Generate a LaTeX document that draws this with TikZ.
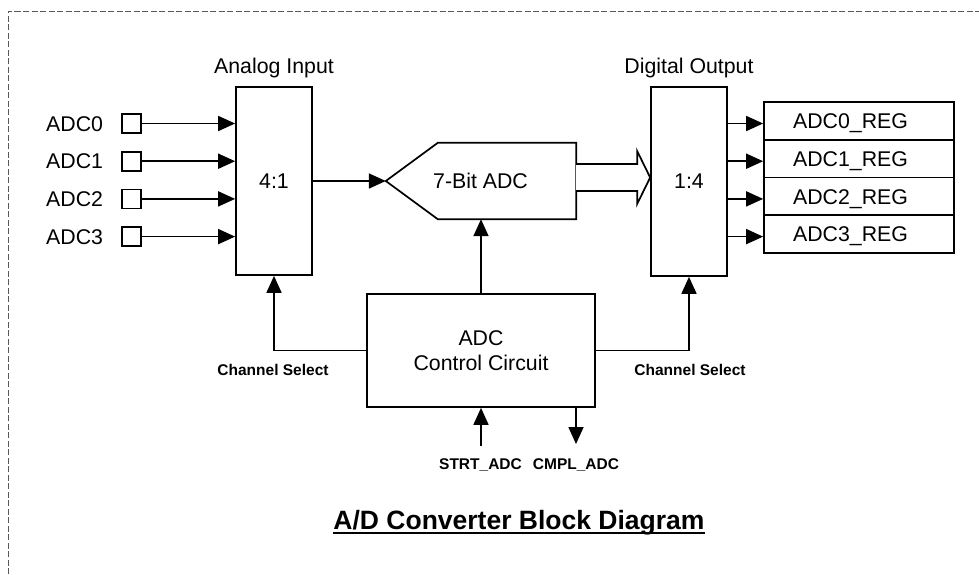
\documentclass[tikz,border=0pt]{standalone}
\usepackage{fontspec}
\setmainfont{Liberation Sans}
\usetikzlibrary{arrows.meta,calc}
\begin{document}
\begin{tikzpicture}[x=1pt,y=-1pt,
  lw/.style={line width=1.7pt},
  box/.style={draw, lw, inner sep=0pt, fill=white},
  txt/.style={font=\fontsize{21.3}{25}\selectfont, inner sep=0pt},
  lbl/.style={font=\fontsize{15.5}{18}\selectfont\bfseries, inner sep=0pt},
  arr/.style={lw, -{Triangle[length=17pt,width=15pt]}},
]
\useasboundingbox (0,0) rectangle (979,574);
\draw[black!65, line width=1pt, dash pattern=on 6pt off 2.5pt] (8,574) -- (8,11) -- (979,11);

% multiplexers
\node[box, txt, minimum width=76pt, minimum height=188pt] (mux) at (274,181) {4:1};
\node[box, txt, minimum width=76pt, minimum height=189pt] (demux) at (689,181.5) {1:4};
\node[txt, anchor=base] (ain) at (274,73) {Analog Input};
\node[txt, anchor=base] (dout) at (689,73) {Digital Output};

% inputs and registers
\foreach \i/\y in {0/123.5, 1/161.2, 2/198.9, 3/236.6} {
  \node[box, minimum size=19pt] (in\i) at (131.5,\y) {};
  \node[txt, anchor=base west] (l\i) at (46,\y+7.6) {ADC\i};
  \draw[arr] (in\i.east) -- (mux.west |- in\i.east);
  \node[box, minimum width=190pt, minimum height=37.75pt] (r\i) at (859,120.875+37.75*\i) {};
  \node[txt, anchor=base] (rt\i) at (850.5,128.5+37.75*\i) {ADC\i\_REG};
  \draw[arr] (demux.east |- in\i.east) -- (r\i.west |- in\i.east);
}

% ADC
\node[minimum width=190pt, minimum height=76pt, inner sep=0pt] (adc) at (481,181) {};
\draw[lw, line join=miter] (adc.west) -- ([xshift=52pt]adc.north west) -- (adc.north east)
  -- (adc.south east) -- ([xshift=52pt]adc.south west) -- cycle;
\node[txt, anchor=base] (adctxt) at (480.5,188.3) {7-Bit ADC};
\draw[arr] (mux.east) -- (adc.west);

% bus arrow
\coordinate (busc) at ([yshift=3.5pt]adc.east);
\coordinate (tipc) at (demux.west |- busc);
\coordinate (bh) at ([xshift=-13pt]tipc);
\draw[lw, fill=white, line join=miter] ([yshift=13.5pt]busc) -- ([yshift=13.5pt]bh) -- ([yshift=26.5pt]bh)
  -- (tipc) -- ([yshift=-26.5pt]bh) -- ([yshift=-13.5pt]bh) -- ([yshift=-13.5pt]busc);

% control
\node[box, txt, align=center, minimum width=228pt, minimum height=113pt] (ctrl) at (481,350.5) {ADC\\Control Circuit};
\draw[arr] (ctrl.north) -- (adc.south);
\draw[arr] (ctrl.west) -| (mux.south);
\draw[arr] (ctrl.east) -| (demux.south);
\node[lbl, anchor=base] (cs1) at (273,375) {Channel Select};
\node[lbl, anchor=base] (cs2) at (690,375) {Channel Select};

\coordinate (strt) at (481,446);
\draw[arr] (strt) -- (ctrl.south);
\coordinate (cmpl) at (576,444);
\draw[arr] (ctrl.south -| cmpl) -- (cmpl);
\node[lbl, anchor=base] (st) at (480.5,469) {STRT\_ADC};
\node[lbl, anchor=base] (cp) at (576,469) {CMPL\_ADC};

% title
\node[font=\fontsize{26.5}{30}\selectfont\bfseries, inner sep=0pt, anchor=base] (title) at (519,529.3) {A/D Converter Block Diagram};
\draw[line width=2pt] ([yshift=-4pt]title.base west) -- ([yshift=-4pt]title.base east);
\end{tikzpicture}
\end{document}
